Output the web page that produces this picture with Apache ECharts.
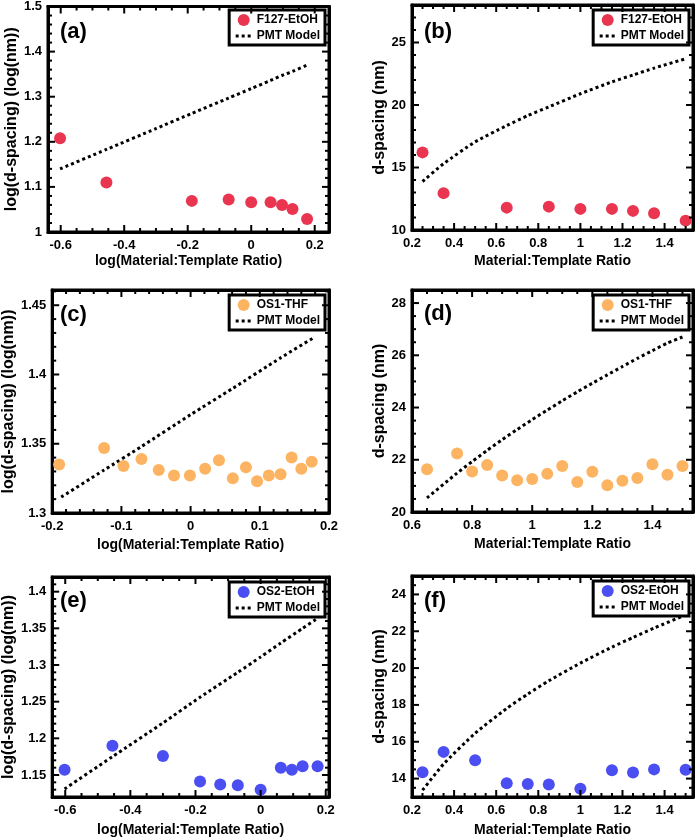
<!DOCTYPE html>
<html><head><meta charset="utf-8">
<script src="https://cdn.jsdelivr.net/npm/echarts@6/dist/echarts.min.js"></script>
<style>html,body{margin:0;padding:0;background:#fff}#c{width:700px;height:840px}</style>
</head><body><div id="c"></div>
<script>
// ---------- data ----------
const aX = [-0.602,-0.456,-0.187,-0.071,0,0.061,0.097,0.130,0.176];
const aY = [1.208,1.110,1.069,1.072,1.066,1.066,1.060,1.051,1.029];
const aModelX = [-0.602,-0.456,-0.301,-0.187,-0.071,0,0.061,0.097,0.130,0.176];
const aModelY = [1.140,1.183,1.229,1.263,1.297,1.318,1.336,1.347,1.356,1.370];

const bX = [0.25,0.35,0.65,0.85,1.0,1.15,1.25,1.35,1.5];
const bY = [16.21,12.95,11.79,11.87,11.69,11.69,11.53,11.34,10.75];
const bModelX = [0.25,0.35,0.5,0.65,0.75,0.85,1.0,1.15,1.25,1.35,1.5];
const bModelY = [13.88,15.3,17.05,18.35,19.15,19.85,20.9,21.85,22.4,22.95,23.7];

const cX = [-0.190,-0.125,-0.097,-0.071,-0.046,-0.024,-0.001,0.021,0.041,0.061,0.080,0.096,0.113,0.130,0.146,0.160,0.175];
const cY = [1.335,1.347,1.334,1.339,1.331,1.327,1.327,1.332,1.338,1.325,1.333,1.323,1.327,1.328,1.340,1.332,1.337];
const cModelX = [-0.187,-0.125,-0.071,0,0.061,0.130,0.176];
const cModelY = [1.3115,1.331,1.348,1.371,1.390,1.412,1.426];

const dX = [0.65,0.75,0.8,0.85,0.9,0.95,1.0,1.05,1.1,1.15,1.2,1.25,1.3,1.35,1.4,1.45,1.5];
const dY = [21.64,22.24,21.55,21.8,21.4,21.22,21.26,21.46,21.76,21.15,21.54,21.02,21.2,21.3,21.83,21.43,21.76];
const dModelY = [20.54,21.49,21.93,22.36,22.77,23.16,23.54,23.90,24.26,24.60,24.93,25.25,25.57,25.88,26.18,26.47,26.7];

const eX = [-0.602,-0.455,-0.300,-0.186,-0.124,-0.070,0,0.062,0.096,0.129,0.175];
const eY = [1.157,1.190,1.176,1.141,1.137,1.136,1.130,1.160,1.157,1.162,1.162];
const eModelX = [-0.602,-0.455,-0.300,-0.186,-0.070,0,0.062,0.129,0.176];
const eModelY = [1.131,1.175,1.221,1.256,1.290,1.311,1.330,1.350,1.364];

const fX = [0.25,0.35,0.5,0.65,0.75,0.85,1.0,1.15,1.25,1.35,1.5];
const fY = [14.35,15.45,15.0,13.75,13.7,13.68,13.45,14.45,14.33,14.5,14.48];
const fModelY = [13.37,14.79,16.46,17.81,18.59,19.31,20.27,21.14,21.66,22.17,22.89];

// tick labels
const xTicksLog = [-0.6,-0.4,-0.2,0,0.2];
const xTicksRatio = [0.2,0.4,0.6,0.8,1,1.2,1.4];
const xTicksC = [-0.2,-0.1,0,0.1,0.2];
const xTicksD = [0.6,0.8,1,1.2,1.4];
const yTicksA = [1,1.1,1.2,1.3,1.4,1.5];
const yTicksB = [10,15,20,25];
const yTicksC = [1.3,1.35,1.4,1.45];
const yTicksD = [20,22,24,26,28];
const yTicksE = [1.15,1.2,1.25,1.3,1.35,1.4];
const yTicksF = [14,16,18,20,22,24];

const seriesNames = ['F127-EtOH','F127-EtOH','OS1-THF','OS1-THF','OS2-EtOH','OS2-EtOH'];
const modelName = 'PMT Model';
const panelTags = ['(a)','(b)','(c)','(d)','(e)','(f)'];
const xNameLog = 'log(Material:Template Ratio)';
const xNameLin = 'Material:Template Ratio';
const yNameLog = 'log(d-spacing) (log(nm))';
const yNameLin = 'd-spacing (nm)';

// ---------- styling / layout ----------
const FONT = '"Liberation Sans", Arial, Helvetica, sans-serif';
const RED = '#EA3550', ORANGE = '#FDB462', BLUE = '#4B4EF0';
const zip = (xs, ys) => xs.map((x, i) => [x, ys[i]]);
const fmt = v => String(+(+v).toFixed(3));
const near = (list, v) => list.some(t => Math.abs(t - v) < 1e-6);
const labelFor = list => v => near(list, v) ? fmt(v) : '';
const splitFor = (range, step) => Math.max(1, Math.round((range[1] - range[0]) / step));
const steps = (min, max, step) => { const o = []; for (let k = Math.ceil(min / step - 1e-6); k * step <= max + 1e-9; k++) o.push(+(k * step).toFixed(4)); return o; };

const panels = [
  {grid:{left:48, top:5, width:281, height:227}, x:[-0.64,0.245], y:[1,1.5], xt:xTicksLog, yt:yTicksA, xM:0.2, yM:0.1, xs:0.05, ys:0.02, xn:xNameLog, yn:yNameLog, col:RED, sx:aX, sy:aY, mx:aModelX, my:aModelY, tagTop:21, xGap:22, yGap:26},
  {grid:{left:412, top:5, width:281, height:225}, x:[0.2,1.535], y:[10,28], xt:xTicksRatio, yt:yTicksB, xM:0.2, yM:5, xs:0.05, ys:1, xn:xNameLin, yn:yNameLin, col:RED, sx:bX, sy:bY, mx:bModelX, my:bModelY, tagTop:21, xGap:24, yGap:17},
  {grid:{left:48, top:290, width:281, height:223}, x:[-0.2,0.2], y:[1.3,1.461], xt:xTicksC, yt:yTicksC, xM:0.1, yM:0.05, xs:0.02, ys:0.01, xn:xNameLog, yn:yNameLog, col:ORANGE, sx:cX, sy:cY, mx:cModelX, my:cModelY, tagTop:304, xGap:25, yGap:26},
  {grid:{left:412, top:290, width:281, height:222}, x:[0.6,1.535], y:[20,28.5], xt:xTicksD, yt:yTicksD, xM:0.2, yM:2, xs:0.05, ys:0.5, xn:xNameLin, yn:yNameLin, col:ORANGE, sx:dX, sy:dY, mx:dX, my:dModelY, tagTop:303, xGap:25, yGap:17},
  {grid:{left:48, top:577, width:281, height:220}, x:[-0.64,0.21], y:[1.12,1.42], xt:xTicksLog, yt:yTicksE, xM:0.2, yM:0.05, xs:0.05, ys:0.01, xn:xNameLog, yn:yNameLog, col:BLUE, sx:eX, sy:eY, mx:eModelX, my:eModelY, tagTop:590, xGap:26, yGap:26},
  {grid:{left:412, top:576, width:281, height:221}, x:[0.2,1.535], y:[13,25], xt:xTicksRatio, yt:yTicksF, xM:0.2, yM:2, xs:0.05, ys:0.5, xn:xNameLin, yn:yNameLin, col:BLUE, sx:fX, sy:fY, mx:fX, my:fModelY, tagTop:590, xGap:26, yGap:17}
];

const grids = [], xAxes = [], yAxes = [], series = [], legends = [], titles = [];
const labelStyle = {color:'#000', fontFamily:FONT, fontWeight:'bold', fontSize:13};
const MAJOR_LEN = 7, MINOR_LEN = 4;

panels.forEach((p, g) => {
  grids.push(Object.assign({show:true, borderColor:'#000', borderWidth:3}, p.grid));
  const base = {gridIndex:g, type:'value', axisLine:{show:true, onZero:false, lineStyle:{color:'#000', width:3}}, splitLine:{show:false}, axisTick:{show:false}};
  xAxes.push(Object.assign({}, base, {
    position:'bottom', min:p.x[0], max:p.x[1], splitNumber:splitFor(p.x, p.xM),
    axisLabel:Object.assign({show:true, margin:7, formatter:labelFor(p.xt)}, labelStyle),
    name:p.xn, nameLocation:'middle', nameGap:p.xGap,
    nameTextStyle:{color:'#000', fontFamily:FONT, fontWeight:'bold', fontSize:14}
  }));
  xAxes.push(Object.assign({}, base, {position:'top', min:p.x[0], max:p.x[1], axisLabel:{show:false}}));
  yAxes.push(Object.assign({}, base, {
    position:'left', min:p.y[0], max:p.y[1], splitNumber:splitFor(p.y, p.yM),
    axisLabel:Object.assign({show:true, margin:6, formatter:labelFor(p.yt)}, labelStyle),
    name:p.yn, nameLocation:'middle', nameGap:p.yGap,
    nameTextStyle:{color:'#000', fontFamily:FONT, fontWeight:'bold', fontSize:16}
  }));
  yAxes.push(Object.assign({}, base, {position:'right', min:p.y[0], max:p.y[1], axisLabel:{show:false}}));

  series.push({
    type:'line', name:modelName, xAxisIndex:2*g, yAxisIndex:2*g,
    data:zip(p.mx, p.my), symbol:'none', smooth:0.2, silent:true,
    itemStyle:{color:'#000'},
    lineStyle:{color:'#000', width:3, type:[3,3]}, z:2
  });
  series.push({
    type:'scatter', name:seriesNames[g], xAxisIndex:2*g, yAxisIndex:2*g,
    data:zip(p.sx, p.sy), symbol:'circle', symbolSize:12, silent:true,
    itemStyle:{color:p.col, opacity:1}, z:3
  });
  legends.push({
    show:true, orient:'vertical', selectedMode:false,
    right: 700 - (p.grid.left + p.grid.width) + 4, top: p.grid.top + 5,
    data:[{name:seriesNames[g], icon:'circle'}, {name:modelName, itemStyle:{opacity:0}}],
    itemWidth:16, itemHeight:12, itemGap:4, padding:[4,5,3,5],
    lineStyle:{width:3, type:[3,3], color:'#000'},
    borderColor:'#000', borderWidth:3, backgroundColor:'#fff', z:10,
    textStyle:{color:'#000', fontFamily:FONT, fontWeight:'bold', fontSize:12}
  });
  titles.push({
    text:panelTags[g], left:p.grid.left + 12, top:p.tagTop, padding:0,
    textStyle:{color:'#000', fontFamily:FONT, fontWeight:'bold', fontSize:22}
  });
});

const chart = echarts.init(document.getElementById('c'), null, {renderer:'canvas'});
chart.setOption({
  animation:false, backgroundColor:'#fff',
  title:titles, legend:legends, grid:grids, xAxis:xAxes, yAxis:yAxes, series:series
});

// ---------- frame tick marks, positioned through the axes' own scales ----------
const tickEls = [];
panels.forEach((p, g) => {
  const toX = v => chart.convertToPixel({xAxisIndex:2*g}, v);
  const toY = v => chart.convertToPixel({yAxisIndex:2*g}, v);
  const L = toX(p.x[0]), R = toX(p.x[1]), B = toY(p.y[0]), T = toY(p.y[1]);
  const add = (x1, y1, x2, y2) => tickEls.push({type:'line', silent:true, z:50,
    shape:{x1, y1, x2, y2}, style:{stroke:'#000', lineWidth:2}});
  const xVals = steps(p.x[0], p.x[1], p.xs).concat(p.xt.filter(v => !near(steps(p.x[0], p.x[1], p.xs), v)));
  xVals.forEach(v => {
    if (v <= p.x[0] + 1e-9 || v >= p.x[1] - 1e-9) return;
    const len = near(p.xt, v) ? MAJOR_LEN : MINOR_LEN;
    const px = toX(v);
    add(px, B, px, B - len);
    add(px, T, px, T + len);
  });
  const yVals = steps(p.y[0], p.y[1], p.ys).concat(p.yt.filter(v => !near(steps(p.y[0], p.y[1], p.ys), v)));
  yVals.forEach(v => {
    if (v <= p.y[0] + 1e-9 || v >= p.y[1] - 1e-9) return;
    const len = near(p.yt, v) ? MAJOR_LEN : MINOR_LEN;
    const py = toY(v);
    add(L, py, L + len, py);
    add(R, py, R - len, py);
  });
});
chart.setOption({graphic:{elements:tickEls}});
</script></body></html>
